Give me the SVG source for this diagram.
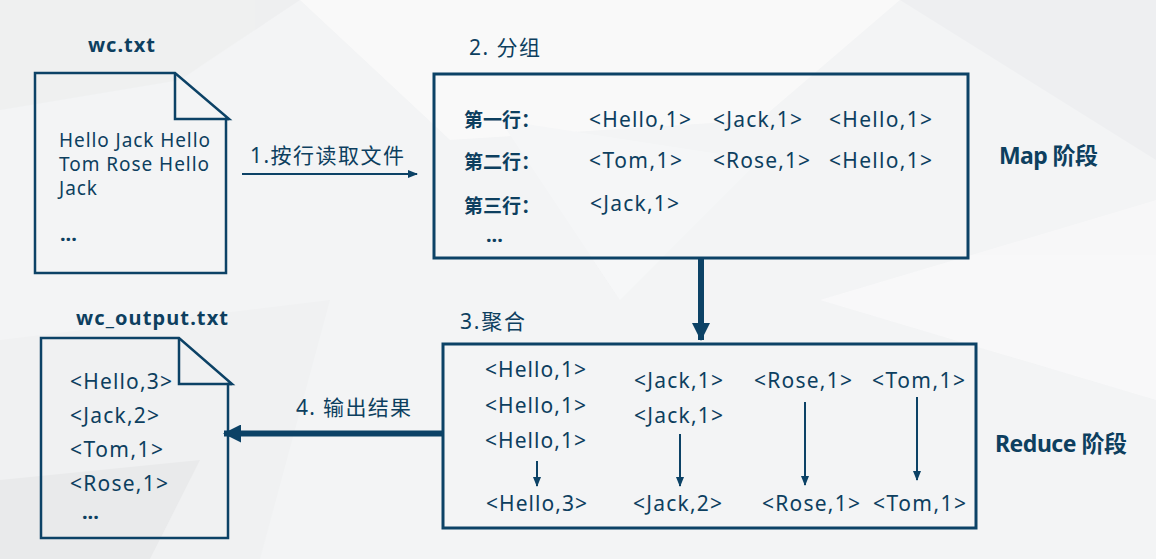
<svg xmlns="http://www.w3.org/2000/svg" width="1156" height="559" viewBox="0 0 1156 559">
<defs>
<style>
.t{font-family:"Noto Sans","Noto Sans CJK SC",sans-serif;font-size:21px;fill:#0d3f5f}
.s{font-family:"Noto Sans","Noto Sans CJK SC",sans-serif;font-size:19px;fill:#0d3f5f}
.b{font-family:"Noto Sans","Noto Sans CJK SC",sans-serif;font-size:20px;font-weight:bold;fill:#0d3f5f}
.stage{font-family:"Noto Sans","Noto Sans CJK SC",sans-serif;font-size:23px;font-weight:bold;fill:#0d3f5f}
.lbl{font-family:"Noto Sans","Noto Sans CJK SC",sans-serif;font-size:19px;font-weight:bold;fill:#0d3f5f}
.box{fill:none;stroke:#0c4266;stroke-width:3}
.doc{fill:none;stroke:#0c4266;stroke-width:2.5;stroke-linejoin:miter}
.thin{stroke:#0c4266;stroke-width:2;fill:none}
.thick{stroke:#0c4266;stroke-width:6;fill:none}
</style>
<marker id="ah" markerUnits="userSpaceOnUse" markerWidth="10" markerHeight="10" refX="9" refY="5" orient="auto">
<path d="M0,1 L10,5 L0,9 Z" fill="#0c4266"/>
</marker>
<marker id="ahb" markerUnits="userSpaceOnUse" markerWidth="18" markerHeight="18" refX="17" refY="9" orient="auto">
<path d="M0,0 L18,9 L0,18 Z" fill="#0c4266"/>
</marker>
</defs>
<rect x="0" y="0" width="1156" height="559" fill="#f3f4f5"/>
<g id="background" opacity="0.9">
<polygon points="0,0 300,0 180,80 0,110" fill="#eeeff0"/>
<polygon points="300,0 900,0 760,120 450,140" fill="#fafafa"/>
<polygon points="900,0 1156,0 1156,160" fill="#eeeff1"/>
<polygon points="0,340 330,300 260,559 0,559" fill="#f0f1f2"/>
<polygon points="820,300 1156,200 1156,400" fill="#f8f8f9"/>
<polygon points="500,120 760,160 620,300" fill="#f6f7f8"/>
<polygon points="0,480 200,460 150,559 0,559" fill="#e9eaeb"/>
</g>

<g id="connectors">
<line class="thin" x1="242" y1="174" x2="417" y2="174" marker-end="url(#ah)"/>
<line class="thick" x1="701" y1="259" x2="701" y2="340" marker-end="url(#ahb)"/>
<line class="thick" x1="443" y1="433.5" x2="224" y2="433.5" marker-end="url(#ahb)"/>
<line class="thin" x1="537" y1="461" x2="537" y2="486" marker-end="url(#ah)"/>
<line class="thin" x1="680" y1="434" x2="680" y2="486" marker-end="url(#ah)"/>
<line class="thin" x1="805" y1="402" x2="805" y2="485" marker-end="url(#ah)"/>
<line class="thin" x1="917" y1="397" x2="917" y2="480" marker-end="url(#ah)"/>
<text class="t" x="250" y="163" textLength="154">1.按行读取文件</text>
<text class="t" x="296" y="415" textLength="115">4. 输出结果</text>
</g>

<g id="wc-txt">
<text class="b" x="88" y="52" textLength="67">wc.txt</text>
<path class="doc" d="M35,73 L175,73 L229,119 L226,119 L226,273 L35,273 Z"/>
<path class="doc" d="M175,73 L175,119 L229,119"/>
<text class="s" x="59" y="147" textLength="151">Hello Jack Hello</text>
<text class="s" x="59" y="171" textLength="150">Tom Rose Hello</text>
<text class="s" x="59" y="195" textLength="38">Jack</text>
<text class="b" x="60" y="241">...</text>
</g>

<g id="map">
<text class="t" x="469" y="55" textLength="71">2. 分组</text>
<rect class="box" x="434" y="74" width="534" height="184"/>
<text class="lbl" x="464" y="127" textLength="76">第一行：</text>
<text class="lbl" x="464" y="169" textLength="76">第二行：</text>
<text class="lbl" x="464" y="213" textLength="76">第三行：</text>
<text class="t" x="589" y="127" textLength="102">&lt;Hello,1&gt;</text>
<text class="t" x="713" y="127" textLength="89">&lt;Jack,1&gt;</text>
<text class="t" x="829" y="127" textLength="103">&lt;Hello,1&gt;</text>
<text class="t" x="589" y="168" textLength="93">&lt;Tom,1&gt;</text>
<text class="t" x="713" y="168" textLength="97">&lt;Rose,1&gt;</text>
<text class="t" x="829" y="168" textLength="103">&lt;Hello,1&gt;</text>
<text class="t" x="590" y="211" textLength="89">&lt;Jack,1&gt;</text>
<text class="b" x="486" y="242">...</text>
<text class="stage" x="999" y="164" textLength="99">Map 阶段</text>
</g>

<g id="reduce">
<text class="t" x="460" y="329" textLength="65">3.聚合</text>
<rect class="box" x="443" y="344" width="533" height="184"/>
<text class="t" x="485" y="377" textLength="101">&lt;Hello,1&gt;</text>
<text class="t" x="485" y="413" textLength="101">&lt;Hello,1&gt;</text>
<text class="t" x="485" y="448" textLength="101">&lt;Hello,1&gt;</text>
<text class="t" x="486" y="511" textLength="101">&lt;Hello,3&gt;</text>
<text class="t" x="634" y="388" textLength="89">&lt;Jack,1&gt;</text>
<text class="t" x="634" y="423" textLength="89">&lt;Jack,1&gt;</text>
<text class="t" x="633" y="511" textLength="89">&lt;Jack,2&gt;</text>
<text class="t" x="754" y="388" textLength="98">&lt;Rose,1&gt;</text>
<text class="t" x="762" y="511" textLength="98">&lt;Rose,1&gt;</text>
<text class="t" x="872" y="388" textLength="93">&lt;Tom,1&gt;</text>
<text class="t" x="873" y="511" textLength="93">&lt;Tom,1&gt;</text>
<text class="stage" x="995" y="452" textLength="132">Reduce 阶段</text>
</g>

<g id="wc-output-txt">
<text class="b" x="76" y="325" textLength="152">wc_output.txt</text>
<path class="doc" d="M41,338 L179,338 L232,384 L228,384 L228,538 L41,538 Z"/>
<path class="doc" d="M179,338 L179,384 L232,384"/>
<text class="t" x="70" y="389" textLength="102">&lt;Hello,3&gt;</text>
<text class="t" x="70" y="423" textLength="89">&lt;Jack,2&gt;</text>
<text class="t" x="70" y="457" textLength="93">&lt;Tom,1&gt;</text>
<text class="t" x="70" y="491" textLength="98">&lt;Rose,1&gt;</text>
<text class="b" x="82" y="519">...</text>
</g>
</svg>
